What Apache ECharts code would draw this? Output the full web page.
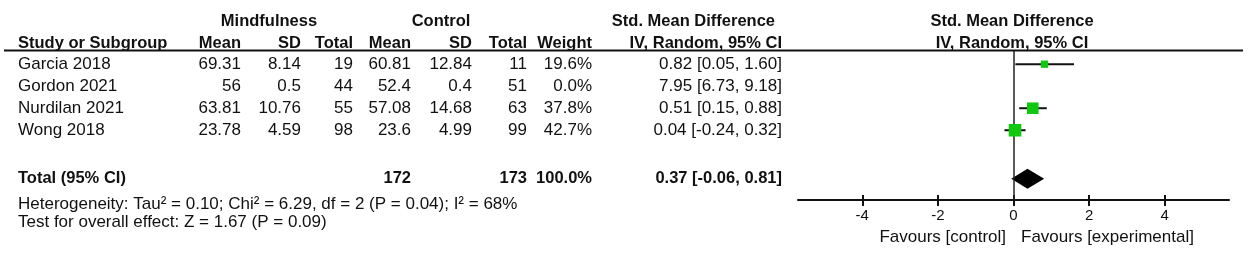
<!DOCTYPE html>
<html>
<head>
<meta charset="utf-8">
<script src="https://cdn.jsdelivr.net/npm/echarts@6/dist/echarts.min.js"></script>
<style>
  html, body { margin: 0; padding: 0; background: #fff; }
  #chart { width: 1248px; height: 257px; }
</style>
</head>
<body>
<div id="chart"></div>
<script>
// study data
var studies = ['Garcia 2018', 'Gordon 2021', 'Nurdilan 2021', 'Wong 2018'];
var expMean = [69.31, 56, 63.81, 23.78];
var expSD = [8.14, 0.5, 10.76, 4.59];
var expN = [19, 44, 55, 98];
var ctlMean = [60.81, 52.4, 57.08, 23.6];
var ctlSD = [12.84, 0.4, 14.68, 4.99];
var ctlN = [11, 51, 63, 99];
var weights = [19.6, 0.0, 37.8, 42.7];
var smd = [0.82, 7.95, 0.51, 0.04];
var ciLow = [0.05, 6.73, 0.15, -0.24];
var ciHigh = [1.60, 9.18, 0.88, 0.32];

// pooled result
var totalExpN = 172;
var totalCtlN = 173;
var totalWeight = 100.0;
var totalSmd = 0.37;
var totalLow = -0.06;
var totalHigh = 0.81;

var heterogeneityText = 'Heterogeneity: Tau\u00b2 = 0.10; Chi\u00b2 = 6.29, df = 2 (P = 0.04); I\u00b2 = 68%';
var overallText = 'Test for overall effect: Z = 1.67 (P = 0.09)';

var tickValues = [-4, -2, 0, 2, 4];
var favourLeft = 'Favours [control]';
var favourRight = 'Favours [experimental]';

// layout (pixels)
var FONT = '"Liberation Sans", Arial, sans-serif';
var FS = 17;
var FSB = 16.5;
var cols = { study: 18, expMean: 241, expSD: 301, expN: 353, ctlMean: 411, ctlSD: 472, ctlN: 527, weight: 592, ci: 782 };
var totalRow = 5.2;
var rowMin = -0.6, rowMax = 6.17;

function txt(t, x, y, align, bold) {
    return {
        type: 'text',
        style: {
            text: t, x: x, y: y,
            fill: '#111',
            font: bold ? ('bold ' + FSB + 'px ' + FONT) : (FS + 'px ' + FONT),
            textAlign: align,
            textVerticalAlign: 'middle'
        }
    };
}

function ciText(m, lo, hi) {
    return m.toFixed(2) + ' [' + lo.toFixed(2) + ', ' + hi.toFixed(2) + ']';
}

var chart = echarts.init(document.getElementById('chart'));

var option = {
    animation: false,
    grid: [
        { left: 798, right: 19, top: 51, bottom: 57 },
        { left: 0, right: 0, top: 51, bottom: 57 }
    ],
    xAxis: [
        {
            gridIndex: 0, type: 'value', min: -5.7, max: 5.7,
            splitLine: { show: false },
            axisLine: { onZero: false, lineStyle: { color: '#111', width: 2 } },
            axisTick: { customValues: tickValues, length: 6, lineStyle: { color: '#111', width: 2 } },
            axisLabel: { customValues: tickValues, margin: 8, color: '#111', fontSize: 15, fontFamily: FONT }
        },
        {
            gridIndex: 0, type: 'value', min: -5.7, max: 5.7, position: 'bottom',
            splitLine: { show: false },
            axisLine: { show: false, onZero: false },
            axisTick: { inside: true, customValues: tickValues, length: 5, lineStyle: { color: '#111', width: 2 } },
            axisLabel: { show: false }
        },
        { gridIndex: 1, type: 'value', min: 0, max: 1248, show: false }
    ],
    yAxis: [
        { gridIndex: 0, type: 'value', min: rowMin, max: rowMax, inverse: true, show: false },
        { gridIndex: 1, type: 'value', min: rowMin, max: rowMax, inverse: true, show: false }
    ],
    graphic: [
        { type: 'line', shape: { x1: 4, y1: 50.5, x2: 1243, y2: 50.5 }, style: { stroke: '#111', lineWidth: 2 } },
        txt('Mindfulness', 269, 21, 'center', true),
        txt('Control', 441, 21, 'center', true),
        txt('Std. Mean Difference', 775, 21, 'right', true),
        txt('Study or Subgroup', cols.study, 43, 'left', true),
        txt('Mean', cols.expMean, 43, 'right', true),
        txt('SD', cols.expSD, 43, 'right', true),
        txt('Total', cols.expN, 43, 'right', true),
        txt('Mean', cols.ctlMean, 43, 'right', true),
        txt('SD', cols.ctlSD, 43, 'right', true),
        txt('Total', cols.ctlN, 43, 'right', true),
        txt('Weight', cols.weight, 43, 'right', true),
        txt('IV, Random, 95% CI', cols.ci, 43, 'right', true),
        txt('Std. Mean Difference', 1012, 21, 'center', true),
        txt('IV, Random, 95% CI', 1012, 43, 'center', true),
        txt(heterogeneityText, cols.study, 204, 'left', false),
        txt(overallText, cols.study, 222, 'left', false),
        txt(favourLeft, 1006, 237, 'right', false),
        txt(favourRight, 1021, 237, 'left', false)
    ],
    series: [
        {
            // study table rows
            type: 'custom', xAxisIndex: 2, yAxisIndex: 1,
            data: studies.map(function (s, i) { return [0, i]; }),
            renderItem: function (params, api) {
                var i = params.dataIndex;
                var y = api.coord([0, api.value(1)])[1];
                var x = function (v) { return api.coord([v, 0])[0]; };
                return {
                    type: 'group',
                    children: [
                        txt(studies[i], x(cols.study), y, 'left', false),
                        txt(String(expMean[i]), x(cols.expMean), y, 'right', false),
                        txt(String(expSD[i]), x(cols.expSD), y, 'right', false),
                        txt(String(expN[i]), x(cols.expN), y, 'right', false),
                        txt(String(ctlMean[i]), x(cols.ctlMean), y, 'right', false),
                        txt(String(ctlSD[i]), x(cols.ctlSD), y, 'right', false),
                        txt(String(ctlN[i]), x(cols.ctlN), y, 'right', false),
                        txt(weights[i].toFixed(1) + '%', x(cols.weight), y, 'right', false),
                        txt(ciText(smd[i], ciLow[i], ciHigh[i]), x(cols.ci), y, 'right', false)
                    ]
                };
            }
        },
        {
            // total row
            type: 'custom', xAxisIndex: 2, yAxisIndex: 1,
            data: [[0, totalRow]],
            renderItem: function (params, api) {
                var y = api.coord([0, api.value(1)])[1];
                var x = function (v) { return api.coord([v, 0])[0]; };
                return {
                    type: 'group',
                    children: [
                        txt('Total (95% CI)', x(cols.study), y, 'left', true),
                        txt(String(totalExpN), x(cols.ctlMean), y, 'right', true),
                        txt(String(totalCtlN), x(cols.ctlN), y, 'right', true),
                        txt(totalWeight.toFixed(1) + '%', x(cols.weight), y, 'right', true),
                        txt(ciText(totalSmd, totalLow, totalHigh), x(cols.ci), y, 'right', true)
                    ]
                };
            }
        },
        {
            // confidence intervals
            type: 'custom', xAxisIndex: 0, yAxisIndex: 0, clip: true,
            data: studies.map(function (s, i) { return [ciLow[i], ciHigh[i], i]; }),
            renderItem: function (params, api) {
                var a = api.coord([api.value(0), api.value(2)]);
                var b = api.coord([api.value(1), api.value(2)]);
                return {
                    type: 'line',
                    shape: { x1: a[0], y1: a[1], x2: b[0], y2: b[1] },
                    style: { stroke: '#111', lineWidth: 2 }
                };
            },
            markLine: {
                silent: true, symbol: 'none', label: { show: false },
                lineStyle: { color: '#222', width: 1.5, type: 'solid' },
                data: [{ xAxis: 0 }]
            }
        },
        {
            // point estimates, sized by weight
            type: 'scatter', xAxisIndex: 0, yAxisIndex: 0, clip: true,
            symbol: 'rect',
            data: studies.map(function (s, i) { return [smd[i], i, weights[i]]; }),
            symbolSize: function (v) { return 0.91 * Math.pow(v[2], 0.7); },
            itemStyle: { color: '#10c810', opacity: 1 },
            z: 5
        },
        {
            // pooled diamond
            type: 'custom', xAxisIndex: 0, yAxisIndex: 0,
            data: [[totalLow, totalSmd, totalHigh, totalRow]],
            renderItem: function (params, api) {
                var l = api.coord([api.value(0), api.value(3)]);
                var m = api.coord([api.value(1), api.value(3)]);
                var r = api.coord([api.value(2), api.value(3)]);
                var h = 10;
                return {
                    type: 'polygon',
                    shape: { points: [[l[0], l[1]], [m[0], m[1] - h], [r[0], r[1]], [m[0], m[1] + h]] },
                    style: { fill: '#000' },
                    z2: 10
                };
            }
        }
    ]
};

chart.setOption(option);
</script>
</body>
</html>
